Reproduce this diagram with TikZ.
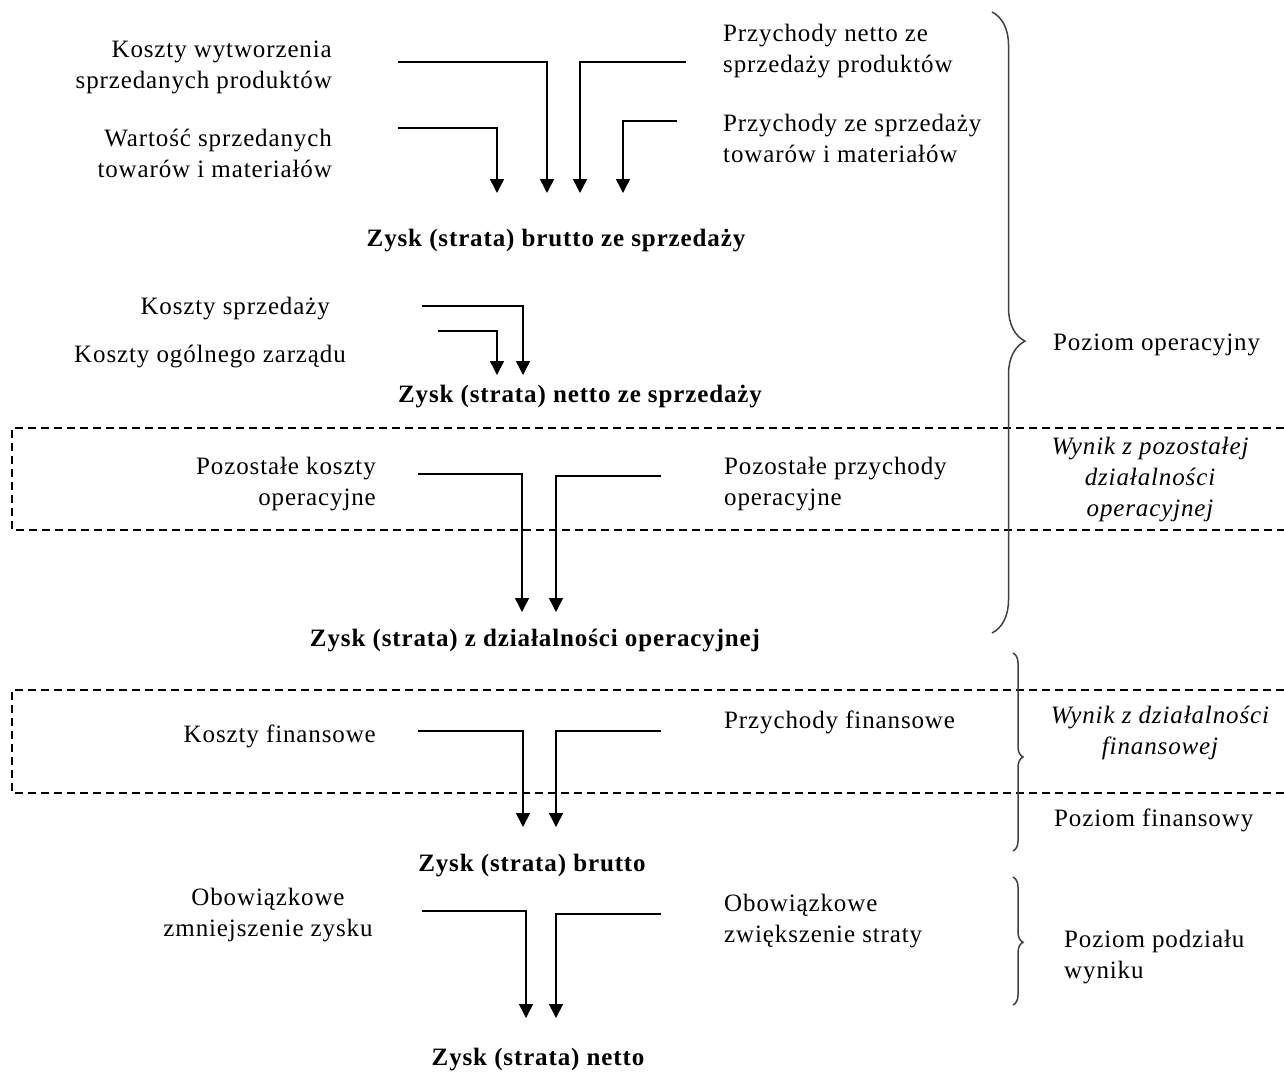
\documentclass[tikz,border=0pt]{standalone}
\usepackage{fontspec}
\setmainfont{Liberation Serif}[LetterSpace=3.5]
\usepackage{tikz}
\usetikzlibrary{arrows.meta,positioning,decorations.pathreplacing}
\tikzstyle{txt} = [inner sep=0pt, text=black, font=\fontsize{25}{31}\selectfont]
\tikzstyle{ltxt} = [txt, align=right, anchor=east]
\tikzstyle{rtxt} = [txt, align=left, anchor=west]
\tikzstyle{result} = [txt, font=\fontsize{25}{31}\selectfont\bfseries]
\tikzstyle{wynik} = [txt, align=center, font=\fontsize{25}{31}\selectfont\itshape]
\tikzstyle{flow}  = [draw, line width=1.5pt, -{Triangle[length=14pt,width=14pt]}]
\tikzstyle{band}  = [draw, line width=1.2pt, dash pattern=on 8pt off 5pt]
\tikzstyle{lvl}   = [draw=black!75, line width=1.5pt, decorate]

\begin{document}
\begin{tikzpicture}[x=1pt, y=-1pt]
\useasboundingbox (0,0) rectangle (1284,1080);

% poziom operacyjny =============================
\node[ltxt] (kwsp) at (332,67) {Koszty wytworzenia\\sprzedanych produktów};
\node[ltxt] (wstm) at (332,153) {Wartość sprzedanych\\towarów i materiałów};
\node[rtxt] (pnsp) at (723,51) {Przychody netto ze\\sprzedaży produktów};
\node[rtxt] (pstm) at (723,138) {Przychody ze sprzedaży\\towarów i materiałów};
\node[result] (bruttosp) at (556,241) {Zysk (strata) brutto ze sprzedaży};

\node[ltxt] (ksp) at (330,309) {Koszty sprzedaży};
\node[ltxt] (koz) at (346,356) {Koszty ogólnego zarządu};
\node[result] (nettosp) at (580,397) {Zysk (strata) netto ze sprzedaży};

\node[ltxt] (pko) at (376,484) {Pozostałe koszty\\operacyjne};
\node[rtxt] (ppo) at (724,484) {Pozostałe przychody\\operacyjne};
\node[result] (dzop) at (535,640) {Zysk (strata) z działalności operacyjnej};

% poziom finansowy =============================
\node[ltxt] (kf) at (376,736) {Koszty finansowe};
\node[rtxt] (pf) at (724,722) {Przychody finansowe};
\node[result] (brutto) at (532,866) {Zysk (strata) brutto};

% poziom podzialu wyniku =============================
\node[txt, align=center] (ozz) at (268,915) {Obowiązkowe\\zmniejszenie zysku};
\node[rtxt] (ozs) at (724,921) {Obowiązkowe\\zwiększenie straty};
\node[result] (netto) at (538,1060) {Zysk (strata) netto};

% poziomy
\node[rtxt] (pop) at (1053,345) {Poziom operacyjny};
\node[wynik] (wpop) at (1150,480) {Wynik z pozostałej\\działalności\\operacyjnej};
\node[wynik] (wfin) at (1160,733) {Wynik z działalności\\finansowej};
\node[rtxt] (pfin) at (1054,820) {Poziom finansowy};
\node[rtxt] (ppw) at (1064,957) {Poziom podziału\\wyniku};

% punkty przeplywow
\coordinate (a0) at (398,62);  \coordinate (a1) at (547,193);
\coordinate (b0) at (686,62);  \coordinate (b1) at (580,193);
\coordinate (c0) at (398,128); \coordinate (c1) at (497,193);
\coordinate (d0) at (677,121); \coordinate (d1) at (623,193);
\coordinate (e0) at (422,306); \coordinate (e1) at (523,375);
\coordinate (f0) at (438,331); \coordinate (f1) at (497,375);
\coordinate (g0) at (418,474); \coordinate (g1) at (522,612);
\coordinate (h0) at (661,476); \coordinate (h1) at (556,612);
\coordinate (i0) at (418,731); \coordinate (i1) at (523,827);
\coordinate (j0) at (661,731); \coordinate (j1) at (556,827);
\coordinate (k0) at (422,911); \coordinate (k1) at (526,1018);
\coordinate (l0) at (661,914); \coordinate (l1) at (556,1018);

% edges
\path[flow] (a0) -| (a1);
\path[flow] (b0) -| (b1);
\path[flow] (c0) -| (c1);
\path[flow] (d0) -| (d1);
\path[flow] (e0) -| (e1);
\path[flow] (f0) -| (f1);
\path[flow] (g0) -| (g1);
\path[flow] (h0) -| (h1);
\path[flow] (i0) -| (i1);
\path[flow] (j0) -| (j1);
\path[flow] (k0) -| (k1);
\path[flow] (l0) -| (l1);

% ramki przerywane
\path[band] (1284,428) -| (12,530) -- (1284,530);
\path[band] (1284,690) -| (12,793) -- (1284,793);

% klamry
\path[lvl, decoration={brace, amplitude=33pt, aspect=0.53}] (992,12) -- (992,633);
\path[lvl, decoration={brace, amplitude=10pt, aspect=0.525}] (1013,653) -- (1013,851);
\path[lvl, decoration={brace, amplitude=10pt, aspect=0.51}] (1013,877) -- (1013,1005);

\end{tikzpicture}
\end{document}
